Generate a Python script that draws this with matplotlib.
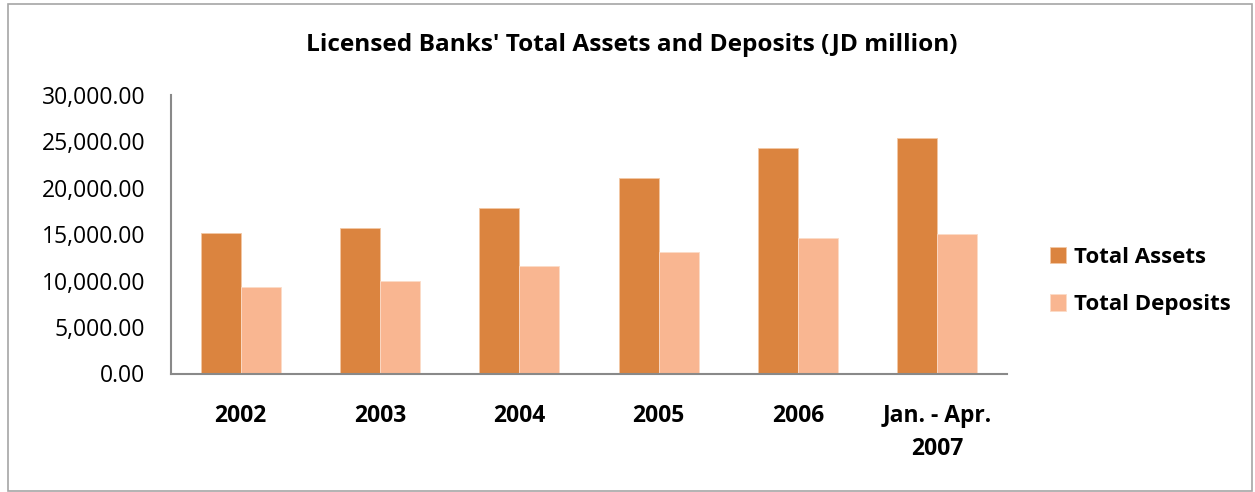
import matplotlib
matplotlib.use("Agg")
import matplotlib.pyplot as plt
from matplotlib.patches import Rectangle
from matplotlib.ticker import FuncFormatter
import numpy as np

categories = ["2002", "2003", "2004", "2005", "2006", "Jan. - Apr.\n2007"]
total_assets = [15100, 15670, 17830, 21090, 24260, 25330]
total_deposits = [9320, 9930, 11550, 13090, 14560, 15000]
yticks = [0, 5000, 10000, 15000, 20000, 25000, 30000]

assets_color = "#DB843F"
deposits_color = "#F9B691"
axis_color = "#898989"

plt.rcParams["font.family"] = ["Open Sans", "DejaVu Sans"]

fig = plt.figure(figsize=(12.55, 4.92), dpi=100)
fig.patches.append(Rectangle((8 / 1255, 1 - 491 / 492), 1244 / 1255, 487 / 492,
                             transform=fig.transFigure, fill=False,
                             edgecolor="#A6A6A6", linewidth=1.2))

ax = fig.add_axes([171 / 1255, 1 - 373.5 / 492, 836 / 1255, 278.5 / 492])

x = np.arange(len(categories))
w = 0.287
ax.bar(x - w / 2, total_assets, w, color=assets_color, edgecolor="#F2C7A4",
       linewidth=0.6, label="Total Assets")
ax.bar(x + w / 2, total_deposits, w, color=deposits_color, edgecolor="#FBDCC8",
       linewidth=0.6, label="Total Deposits")

ax.set_xlim(-0.5, len(categories) - 0.5)
ax.set_ylim(0, 30000)
ax.set_yticks(yticks)
ax.yaxis.set_major_formatter(FuncFormatter(lambda v, p: f"{v:,.2f}"))
ax.set_xticks(x)
ax.set_xticklabels(categories, fontweight="bold", fontsize=16.5, linespacing=1.5)
ax.tick_params(axis="y", length=0, pad=18.5, labelsize=16.5)
ax.tick_params(axis="x", length=0, pad=22)

for s in ["top", "right"]:
    ax.spines[s].set_visible(False)
for s in ["left", "bottom"]:
    ax.spines[s].set_color(axis_color)
    ax.spines[s].set_linewidth(1.5)

fig.text(632 / 1255, 1 - 45 / 492, "Licensed Banks' Total Assets and Deposits (JD million)",
         ha="center", va="center", fontsize=17.6, fontweight="bold")

leg = ax.legend(loc="center left", bbox_to_anchor=(1.027, 0.332), frameon=False,
                prop={"weight": "bold", "size": 16}, handlelength=0.75,
                handleheight=0.75, handletextpad=0.35, labelspacing=1.2)

fig.savefig("out.png", dpi=100)
